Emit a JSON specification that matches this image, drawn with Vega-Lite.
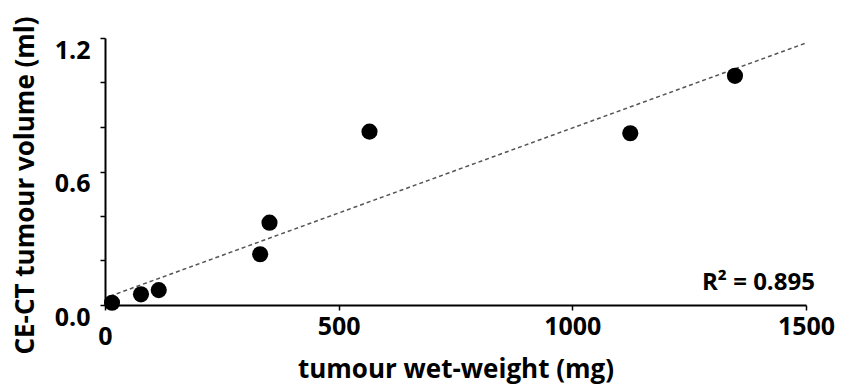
{
  "$schema": "https://vega.github.io/schema/vega-lite/v6.json",
  "autosize": "none",
  "width": 701,
  "height": 267,
  "padding": {"left": 105, "top": 38, "right": 38, "bottom": 85},
  "background": "white",
  "config": {
    "view": {"stroke": null},
    "font": "Open Sans",
    "axis": {
      "grid": false,
      "domainColor": "black",
      "domainWidth": 2,
      "tickColor": "black",
      "tickWidth": 1.5,
      "tickSize": 5,
      "labelFont": "Open Sans",
      "labelFontWeight": "bold",
      "labelFontSize": 25,
      "labelColor": "black",
      "titleFont": "Open Sans",
      "titleFontWeight": "bold",
      "titleFontSize": 26,
      "titleColor": "black"
    }
  },
  "datasets": {
    "points": [
      {"weight": 15, "volume": 0.01},
      {"weight": 77, "volume": 0.048},
      {"weight": 115, "volume": 0.067},
      {"weight": 332, "volume": 0.228},
      {"weight": 352, "volume": 0.37},
      {"weight": 566, "volume": 0.779},
      {"weight": 1124, "volume": 0.772},
      {"weight": 1348, "volume": 1.03}
    ],
    "trend": [
      {"weight": 11, "volume": 0.04},
      {"weight": 1498, "volume": 1.176}
    ],
    "annot": [
      {"weight": 1519, "volume": 0.1, "label": "R² = 0.895"}
    ]
  },
  "layer": [
    {
      "data": {"name": "trend"},
      "mark": {"type": "line", "color": "#555555", "strokeWidth": 1.5, "strokeDash": [4, 3]},
      "encoding": {
        "x": {
          "field": "weight", "type": "quantitative",
          "scale": {"domain": [0, 1500], "nice": false},
          "axis": {
            "title": "tumour wet-weight (mg)",
            "values": [0, 500, 1000, 1500],
            "format": "d",
            "labelPadding": {"condition": {"test": "datum.value === 0", "value": 14}, "value": 4},
            "labelFlush": false,
            "titlePadding": 7
          }
        },
        "y": {
          "field": "volume", "type": "quantitative",
          "scale": {"domain": [0, 1.2], "nice": false},
          "axis": {
            "title": "CE-CT tumour volume (ml)",
            "titleFontSize": 26,
            "titleAngle": -90,
            "titleX": -80,
            "titleY": 147,
            "titleAlign": "center",
            "titleBaseline": "middle",
            "values": [0, 0.2, 0.4, 0.6, 0.8, 1.0, 1.2],
            "labelExpr": "(abs(datum.value) < 0.01 || abs(datum.value - 0.6) < 0.01 || abs(datum.value - 1.2) < 0.01) ? format(datum.value, '.1f') : ''",
            "labelBaseline": "top",
            "labelPadding": 10,
            "labelFlush": false
          }
        }
      }
    },
    {
      "data": {"name": "points"},
      "mark": {"type": "circle", "color": "black", "opacity": 1, "size": 260},
      "encoding": {
        "x": {"field": "weight", "type": "quantitative"},
        "y": {"field": "volume", "type": "quantitative"}
      }
    },
    {
      "data": {"name": "annot"},
      "mark": {"type": "text", "align": "right", "baseline": "middle", "font": "Open Sans", "fontWeight": "bold", "fontSize": 24, "color": "black"},
      "encoding": {
        "x": {"field": "weight", "type": "quantitative"},
        "y": {"field": "volume", "type": "quantitative"},
        "text": {"field": "label"}
      }
    }
  ]
}
